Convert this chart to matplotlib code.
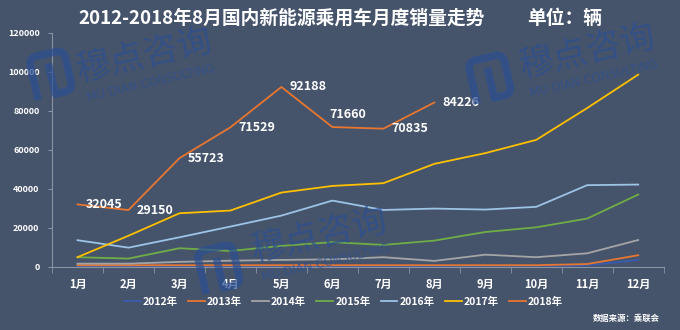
import matplotlib.pyplot as plt
import numpy as np
from matplotlib.path import Path
from matplotlib.patches import PathPatch

plt.rcParams['font.family'] = ['Noto Sans CJK SC', 'DejaVu Sans']
plt.rcParams['axes.unicode_minus'] = False

# 月度销量数据（辆）
months = ["1月", "2月", "3月", "4月", "5月", "6月", "7月", "8月", "9月", "10月", "11月", "12月"]
sales_2012 = [500, 500, 500, 500, 500, 500, 500, 500, 600, 600, 800, 3600]
sales_2013 = [900, 900, 900, 900, 900, 900, 900, 900, 900, 900, 1500, 6000]
sales_2014 = [1700, 1700, 2600, 3200, 3600, 3900, 5000, 3100, 6300, 5000, 7000, 13800]
sales_2015 = [5000, 4300, 9600, 8200, 10800, 12700, 11300, 13500, 17900, 20300, 24800, 37100]
sales_2016 = [13700, 9900, 15200, 20700, 26300, 34000, 29200, 29900, 29400, 30800, 41900, 42200]
sales_2017 = [5000, 16000, 27500, 28900, 38100, 41500, 42900, 52800, 58300, 65100, 81400, 98500]
sales_2018 = [32045, 29150, 55723, 71529, 92188, 71660, 70835, 84226]

years = ["2012年", "2013年", "2014年", "2015年", "2016年", "2017年", "2018年"]
colors = ["#3a5bb0", "#e8762f", "#a5a5a5", "#70ad47", "#9dc3e6", "#ffc000", "#e8762f"]
series = [sales_2012, sales_2013, sales_2014, sales_2015, sales_2016, sales_2017, sales_2018]

bg = "#46546b"
fig = plt.figure(figsize=(6.8, 3.3), dpi=100, facecolor=bg)
ax = fig.add_axes([0.0765, 0.191, 0.8995, 0.71])
ax.set_facecolor(bg)

x = np.arange(len(months))
for name, vals, c in zip(years, series, colors):
    ax.plot(x[:len(vals)], vals, color=c, lw=1.3, label=name)

# 2018年数据标签
for i, v in enumerate(sales_2018):
    dx, dy = 6, 0
    if i == 5:
        dx, dy = -2, 9
    ax.annotate(str(v), (x[i], v), xytext=(dx, dy), textcoords="offset points",
                ha="left", va="center", color="white", fontsize=9, fontweight="bold")

ax.set_xlim(-0.5, 11.5)
ax.set_ylim(0, 120000)
ax.set_yticks(range(0, 120001, 20000))
ax.set_yticklabels([str(t) for t in range(0, 120001, 20000)])
ax.set_xticks(x)
ax.set_xticklabels(months)
ax.set_xticks(np.arange(-0.5, 12, 1), minor=True)
ax.tick_params(axis="x", which="major", length=0, pad=8, colors="white", labelsize=8)
ax.tick_params(axis="x", which="minor", length=4, color="#8a94a3")
ax.tick_params(axis="y", length=3, color="#8a94a3", labelcolor="white", labelsize=6.5, pad=6)
for t in ax.get_xticklabels() + ax.get_yticklabels():
    t.set_fontweight("bold")
for s in ["top", "right"]:
    ax.spines[s].set_visible(False)
ax.spines["left"].set_color("#8a94a3")
ax.spines["bottom"].set_color("#8a94a3")

leg = fig.legend(loc="center", bbox_to_anchor=(0.505, 0.085), ncol=7, frameon=False,
                 handlelength=1.6, handletextpad=0.2, columnspacing=1.0,
                 prop={"size": 7.5, "weight": "bold"})
for t in leg.get_texts():
    t.set_color("white")

fig.text(78 / 680, 0.945, "2012-2018年8月国内新能源乘用车月度销量走势",
         ha="left", va="center", color="white", fontsize=13.5, fontweight="bold")
fig.text(527 / 680, 0.945, "单位：辆",
         ha="left", va="center", color="white", fontsize=13.5, fontweight="bold")
fig.text(0.97, 0.035, "数据来源：乘联会", ha="right", va="center", color="white",
         fontsize=6, fontweight="bold")

# 水印层（像素坐标）
ov = fig.add_axes([0, 0, 1, 1], zorder=5)
ov.set_xlim(0, 680)
ov.set_ylim(330, 0)
ov.axis("off")
ov.patch.set_alpha(0)

wm = "#2c4f92"
ang = np.deg2rad(13)
logo_pts = [(4, 46), (4, 11), (4, 3), (12, 3), (32, 3), (40, 3), (40, 11),
            (40, 36), (40, 44), (32, 44), (22, 44), (22, 13)]
logo_codes = [Path.MOVETO, Path.LINETO, Path.CURVE3, Path.CURVE3, Path.LINETO,
              Path.CURVE3, Path.CURVE3, Path.LINETO, Path.CURVE3, Path.CURVE3,
              Path.LINETO, Path.LINETO]


def watermark(lx, ly, tx, ty):
    pts = []
    for px, py in logo_pts:
        pts.append((lx + px * np.cos(ang) + py * np.sin(ang),
                    ly - px * np.sin(ang) + py * np.cos(ang)))
    ov.add_patch(PathPatch(Path(pts, logo_codes), fill=False, lw=5.5, ec=wm,
                           alpha=0.7, capstyle="butt", joinstyle="round"))
    ov.text(tx, ty, "穆点咨询", color=wm, alpha=0.7, fontsize=25, rotation=13,
            ha="center", va="center")
    ov.text(tx + 6, ty + 27, "MU DIAN CONSULTING", color=wm, alpha=0.7, fontsize=8.5,
            rotation=13, ha="center", va="center", family=["DejaVu Sans"])


watermark(24, 56, 145, 56)
watermark(192, 250, 320, 236)
watermark(463, 60, 588, 52)

fig.savefig("out.png", dpi=100, facecolor=bg)
